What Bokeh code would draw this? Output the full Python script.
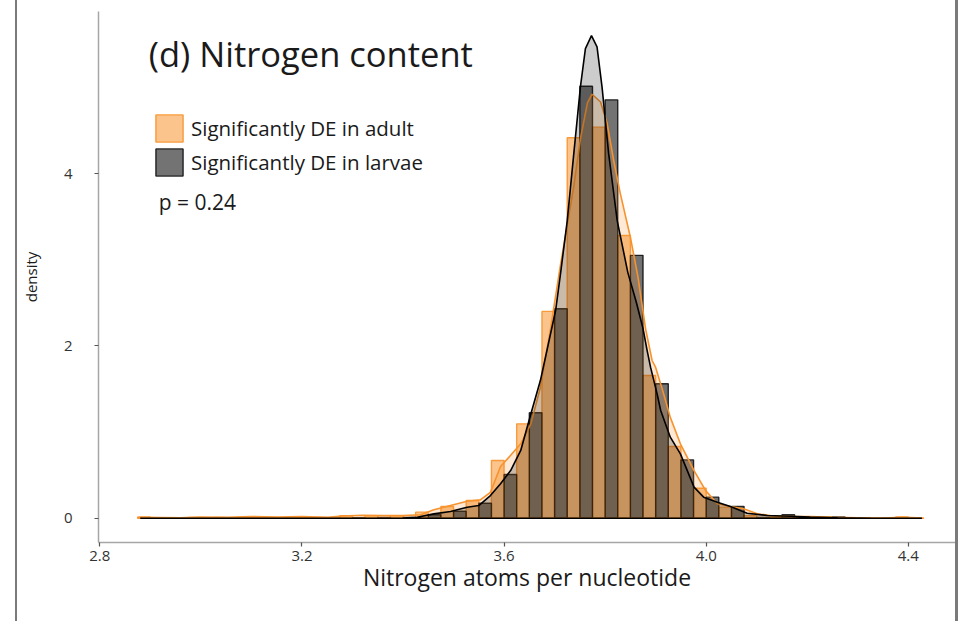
from bokeh.plotting import figure
from bokeh.layouts import row
from bokeh.models import (Range1d, FixedTicker, Legend, LegendItem, Label,
                          ColumnDataSource, Div, Spacer)
from bokeh.transform import dodge
from bokeh.embed import file_html
from bokeh.resources import INLINE

# ---------------- data ----------------
bin_width = 0.05
bin_centers = [2.90, 2.95, 3.00, 3.05, 3.10, 3.15, 3.20, 3.25, 3.30, 3.35,
               3.40, 3.45, 3.50, 3.55, 3.60, 3.65, 3.70, 3.75, 3.80, 3.85,
               3.90, 3.95, 4.00, 4.05, 4.10, 4.15, 4.20, 4.25, 4.30, 4.35, 4.40]
adult_hist = [0.015, 0.005, 0.010, 0.010, 0.010, 0.010, 0.015, 0.010, 0.030, 0.030,
              0.030, 0.070, 0.135, 0.205, 0.670, 1.095, 2.400, 4.415, 4.538, 3.280,
              1.656, 0.832, 0.348, 0.128, 0.030, 0.015, 0.010, 0.015, 0.005, 0.000, 0.015]
larvae_hist = [0.000, 0.000, 0.000, 0.000, 0.000, 0.000, 0.000, 0.000, 0.005, 0.010,
               0.010, 0.040, 0.080, 0.174, 0.507, 1.223, 2.430, 5.013, 4.855, 3.050,
               1.560, 0.677, 0.244, 0.136, 0.010, 0.040, 0.010, 0.015, 0.005, 0.000, 0.000]

adult_kde_x = [2.875, 2.88, 2.92, 2.96, 3.00, 3.05, 3.10, 3.15, 3.20, 3.25, 3.28, 3.32,
               3.36, 3.40, 3.435, 3.461, 3.494, 3.527, 3.553, 3.573, 3.593, 3.613,
               3.633, 3.653, 3.672, 3.692, 3.712, 3.725, 3.738, 3.751, 3.765, 3.774,
               3.791, 3.804, 3.817, 3.830, 3.850, 3.865, 3.880, 3.893, 3.900, 3.916,
               3.929, 3.949, 3.976, 3.999, 4.022, 4.048, 4.074, 4.101, 4.127, 4.167,
               4.206, 4.250, 4.300, 4.350, 4.390, 4.430, 4.430]
adult_kde_y = [0.0, 0.010, 0.008, 0.005, 0.012, 0.010, 0.020, 0.012, 0.018, 0.010, 0.025, 0.035,
               0.030, 0.030, 0.040, 0.097, 0.147, 0.197, 0.213, 0.300, 0.600, 0.730,
               0.863, 1.095, 1.520, 2.200, 2.950, 3.400, 3.850, 4.400, 4.820, 4.920,
               4.830, 4.580, 4.150, 3.770, 3.260, 2.800, 2.200, 1.830, 1.750, 1.440,
               1.170, 0.863, 0.553, 0.320, 0.167, 0.136, 0.109, 0.051, 0.031, 0.020,
               0.020, 0.010, 0.005, 0.003, 0.010, 0.002, 0.0]

larvae_kde_x = [2.880, 2.880, 3.000, 3.200, 3.400, 3.428, 3.461, 3.494, 3.527, 3.550, 3.573,
                3.593, 3.613, 3.633, 3.653, 3.672, 3.702, 3.712, 3.725, 3.738, 3.751,
                3.761, 3.773, 3.784, 3.794, 3.807, 3.824, 3.845, 3.862, 3.875, 3.883,
                3.890, 3.903, 3.910, 3.929, 3.949, 3.976, 3.995, 4.022, 4.048, 4.081,
                4.121, 4.167, 4.206, 4.260, 4.320, 4.427, 4.427]
larvae_kde_y = [0.0, 0.0, 0.0, 0.0, 0.003, 0.010, 0.050, 0.078, 0.128, 0.147, 0.263,
                0.400, 0.553, 0.786, 1.210, 1.600, 2.410, 2.850, 3.450, 4.230, 5.000,
                5.450, 5.600, 5.470, 5.000, 4.230, 3.450, 2.850, 2.500, 2.200, 1.950,
                1.750, 1.440, 1.250, 0.940, 0.747, 0.360, 0.244, 0.186, 0.136, 0.058,
                0.031, 0.023, 0.012, 0.005, 0.0, 0.0, 0.0]

x_ticks = [2.8, 3.2, 3.6, 4.0, 4.4]
x_tick_labels = ["2.8", "3.2", "3.6", "4.0", "4.4"]
y_ticks = [0, 2, 4]
y_tick_labels = ["0", "2", "4"]

title_text = "(d) Nitrogen content"
series_names = ["Significantly DE in adult", "Significantly DE in larvae"]
p_value_text = "p = 0.24"
x_label = "Nitrogen atoms per nucleotide"
y_label = "density"

# ---------------- styling ----------------
FONT = "Open Sans"
ORANGE = "#f7932e"
AXIS_GREY = "#a6a6a6"
TEXT = "#1a1a1a"
FRAME_GREY = "#7a7a7a"
H = 621

p = figure(width=938, height=H, output_backend="svg", toolbar_location=None,
           x_range=Range1d(2.7974, 4.4934), y_range=Range1d(-0.282, 5.880),
           min_border_left=81, min_border_right=0, min_border_top=11,
           min_border_bottom=79)
p.background_fill_color = "white"
p.border_fill_color = "white"
p.outline_line_color = None
p.xgrid.visible = False
p.ygrid.visible = False

src = ColumnDataSource(dict(x=bin_centers, adult=adult_hist, larvae=larvae_hist))

r_adult = p.vbar(x=dodge("x", -bin_width / 4, range=p.x_range), top="adult", bottom=0,
                 width=bin_width / 2, source=src,
                 fill_color=ORANGE, fill_alpha=0.55,
                 line_color=ORANGE, line_alpha=0.9, line_width=1.4)
r_larvae = p.vbar(x=dodge("x", bin_width / 4, range=p.x_range), top="larvae", bottom=0,
                  width=bin_width / 2, source=src,
                  fill_color="black", fill_alpha=0.55,
                  line_color="black", line_alpha=0.8, line_width=1.4)

p.patch(adult_kde_x, adult_kde_y, fill_color=ORANGE, fill_alpha=0.2,
        line_color=ORANGE, line_width=1.6)
p.patch(larvae_kde_x, larvae_kde_y, fill_color="black", fill_alpha=0.2,
        line_color="black", line_width=1.6)

# axes
for ax in (p.xaxis[0], p.yaxis[0]):
    ax.axis_line_color = AXIS_GREY
    ax.axis_line_width = 1.5
    ax.major_tick_line_color = "#555555"
    ax.major_tick_line_width = 1.2
    ax.major_tick_in = 0
    ax.major_tick_out = 4
    ax.minor_tick_line_color = None
    ax.major_label_text_font = FONT
    ax.major_label_text_font_size = "15px"
    ax.major_label_text_color = "#333333"
    ax.axis_label_text_font = FONT
    ax.axis_label_text_font_style = "normal"
    ax.axis_label_text_color = TEXT

p.xaxis.ticker = FixedTicker(ticks=x_ticks)
p.xaxis.major_label_overrides = dict(zip(x_ticks, x_tick_labels))
p.xaxis.axis_label = x_label
p.xaxis.axis_label_text_font_size = "23px"
p.xaxis.major_label_standoff = 4
p.xaxis.axis_label_standoff = -3

p.yaxis.ticker = FixedTicker(ticks=y_ticks)
p.yaxis.major_label_overrides = dict(zip(y_ticks, y_tick_labels))
p.yaxis.axis_label = y_label
p.yaxis.axis_label_text_font_size = "15px"
p.yaxis.major_label_standoff = 22
p.yaxis.axis_label_standoff = 20
p.yaxis.major_label_orientation = "horizontal"

# title and p-value as labels inside the panel
p.add_layout(Label(x=2.897, y=5.393, text=title_text, text_font=FONT,
                   text_font_size="34.5px", text_color=TEXT, text_baseline="alphabetic"))
p.add_layout(Label(x=2.9165, y=3.675, text=p_value_text, text_font=FONT,
                   text_font_size="21px", text_color=TEXT, text_baseline="alphabetic"))

legend = Legend(items=[LegendItem(label=series_names[0], renderers=[r_adult]),
                       LegendItem(label=series_names[1], renderers=[r_larvae])],
                location=(54, 363), orientation="vertical",
                glyph_width=34, glyph_height=34, spacing=-4, padding=0, margin=0,
                label_standoff=5, label_text_font=FONT, label_text_font_size="20.5px",
                label_text_color=TEXT, label_text_baseline="middle",
                border_line_color=None, background_fill_alpha=0)
p.add_layout(legend)

# the panel's frame lines at the left and right edges
left_pad = Spacer(width=15, height=H, margin=0, sizing_mode="fixed")
left_rule = Div(text="", width=2, height=H, margin=0, sizing_mode="fixed",
                styles={"background-color": FRAME_GREY})
right_rule = Div(text="", width=3, height=H, margin=0, sizing_mode="fixed",
                 styles={"background-color": FRAME_GREY})
right_pad = Spacer(width=2, height=H, margin=0, sizing_mode="fixed")

layout = row(left_pad, left_rule, p, right_rule, right_pad, spacing=0)

open("out.html", "w").write(file_html(layout, INLINE))
